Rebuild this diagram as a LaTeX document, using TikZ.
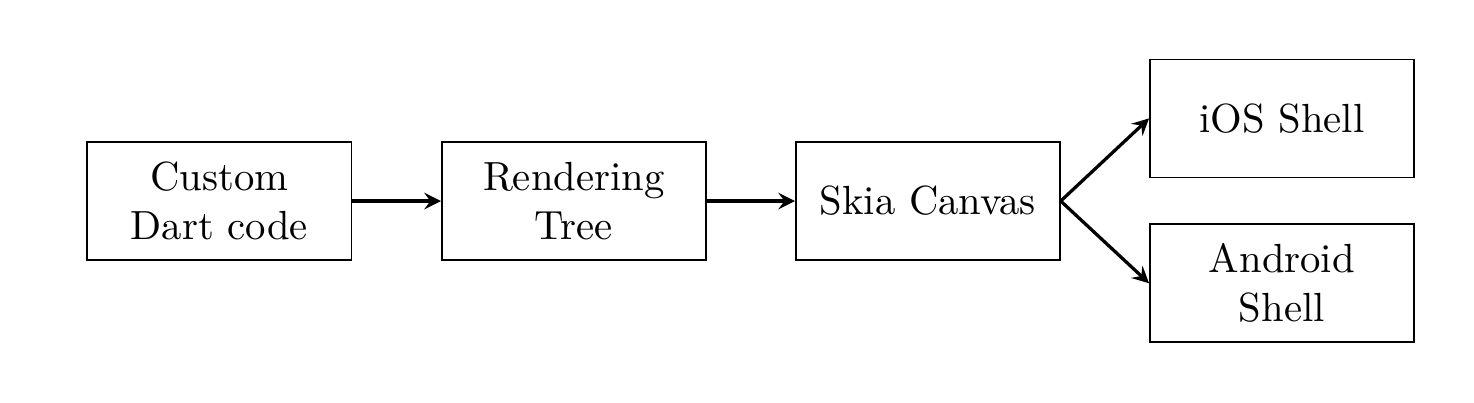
\documentclass[tikz,border=0pt]{standalone}
\usetikzlibrary{arrows}
\begin{document}
\begin{tikzpicture}[x=1pt,y=1pt,
  blockbox/.style={draw, minimum width=64.9pt, minimum height=29pt, align=center, inner sep=2pt},
  flow/.style={->, >=stealth, thick}]
\useasboundingbox (0,0) rectangle (362.2,99);
\node[blockbox] (dart) at (53.9,49.6) {Custom\\Dart code};
\node[blockbox] (tree) at (141.0,49.6) {Rendering\\Tree};
\node[blockbox] (skia) at (228.0,49.6) {Skia Canvas};
\node[blockbox] (ios) at (315.0,69.9) {iOS Shell};
\node[blockbox] (android) at (315.0,29.4) {Android\\Shell};
\draw[flow] (dart) -- (tree);
\draw[flow] (tree) -- (skia);
\draw[flow] (skia.east) -- (ios.west);
\draw[flow] (skia.east) -- (android.west);
\end{tikzpicture}
\end{document}
